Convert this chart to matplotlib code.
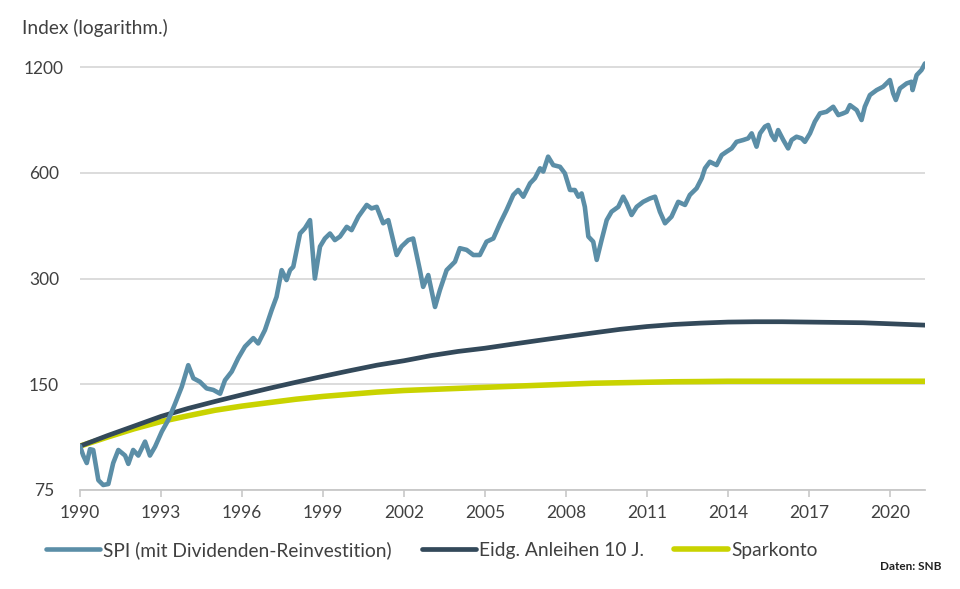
import matplotlib
matplotlib.use("Agg")
import matplotlib.pyplot as plt
from matplotlib.ticker import FixedLocator, FixedFormatter, NullLocator

plt.rcParams['font.family'] = ['Lato', 'DejaVu Sans']

# SPI (mit Dividenden-Reinvestition)
spi_years = [1990.00, 1990.12, 1990.25, 1990.37, 1990.49, 1990.68, 1990.86, 1991.05, 1991.23, 1991.42,
             1991.67, 1991.79, 1991.97, 1992.16, 1992.41, 1992.59, 1992.78, 1993.03, 1993.27, 1993.52,
             1993.77, 1994.01, 1994.20, 1994.44, 1994.69, 1994.94, 1995.19, 1995.37, 1995.62, 1995.86,
             1996.11, 1996.42, 1996.60, 1996.85, 1997.10, 1997.28, 1997.47, 1997.65, 1997.78, 1997.90,
             1998.15, 1998.33, 1998.52, 1998.70, 1998.89, 1999.07, 1999.26, 1999.44, 1999.63, 1999.88,
             2000.06, 2000.31, 2000.62, 2000.80, 2000.99, 2001.23, 2001.42, 2001.73, 2001.91, 2002.16,
             2002.34, 2002.59, 2002.71, 2002.90, 2003.15, 2003.33, 2003.58, 2003.89, 2004.07, 2004.32,
             2004.57, 2004.81, 2005.06, 2005.31, 2005.56, 2005.80, 2006.05, 2006.23, 2006.42, 2006.67,
             2006.85, 2007.04, 2007.16, 2007.34, 2007.53, 2007.78, 2007.96, 2008.15, 2008.33, 2008.46,
             2008.58, 2008.70, 2008.83, 2009.01, 2009.14, 2009.32, 2009.51, 2009.69, 2009.94, 2010.12,
             2010.25, 2010.43, 2010.62, 2010.86, 2011.11, 2011.30, 2011.48, 2011.67, 2011.91, 2012.16,
             2012.41, 2012.59, 2012.84, 2013.03, 2013.15, 2013.33, 2013.58, 2013.77, 2013.95, 2014.14,
             2014.32, 2014.57, 2014.75, 2014.88, 2015.06, 2015.19, 2015.37, 2015.49, 2015.62, 2015.74,
             2015.86, 2016.05, 2016.23, 2016.36, 2016.54, 2016.73, 2016.85, 2017.04, 2017.22, 2017.41,
             2017.65, 2017.90, 2018.09, 2018.27, 2018.40, 2018.52, 2018.77, 2018.95, 2019.07, 2019.26,
             2019.51, 2019.75, 2020.00, 2020.12, 2020.22, 2020.37, 2020.62, 2020.80, 2020.84, 2020.99,
             2021.17, 2021.30]
spi_values = [100, 94, 89.5, 98, 97.5, 80, 77.5, 78, 89.5, 97.5,
              94, 89, 97.5, 94, 103, 94, 99.6, 110, 118.7, 132,
              147.6, 170, 156, 152.5, 146, 144.5, 141, 154, 163, 178,
              192, 203, 196, 214, 244, 266, 317, 297, 317, 324,
              403, 417, 440, 300, 370, 390, 403, 386, 395, 421,
              412, 450, 486, 475, 480, 431, 440, 350, 370, 386,
              390, 317, 284, 307, 249, 278, 317, 335, 366, 362,
              350, 350, 382, 390, 431, 470, 519, 536, 513, 560,
              579, 618, 605, 667, 631, 624, 598, 536, 536, 513,
              524, 480, 395, 382, 339, 386, 440, 465, 480, 513,
              491, 455, 480, 496, 507, 513, 465, 431, 450, 496,
              486, 519, 542, 579, 618, 645, 631, 674, 689, 704,
              735, 744, 752, 777, 712, 777, 812, 821, 769, 744,
              794, 744, 704, 744, 760, 752, 735, 777, 839, 886,
              895, 925, 876, 886, 895, 935, 905, 848, 925, 999,
              1032, 1055, 1102, 1010, 967, 1043, 1078, 1090, 1032, 1138,
              1177, 1229]

# Eidg. Anleihen 10 J. and Sparkonto
years = [1990, 1991, 1992, 1993, 1994, 1995, 1996, 1997, 1998, 1999, 2000,
         2001, 2002, 2003, 2004, 2005, 2006, 2007, 2008, 2009, 2010,
         2011, 2012, 2013, 2014, 2015, 2016, 2017, 2018, 2019, 2020, 2021.3]
bond_values = [100, 107, 114, 121.5, 128, 134, 140, 146, 152, 158, 164,
               170, 175, 181, 186, 190, 195, 200, 205, 210, 215,
               219, 222, 224, 225.5, 226, 226, 225.5, 225, 224.5, 223, 221]
spar_values = [100, 106, 112, 117.5, 122, 126.5, 130, 133, 136, 138.5, 140.5,
               142.5, 144, 145, 146, 147, 148, 149, 150, 151, 151.5,
               152, 152.5, 152.7, 153, 153, 153, 153, 153, 153, 153, 153]

y_ticks = [75, 150, 300, 600, 1200]
x_ticks = [1990, 1993, 1996, 1999, 2002, 2005, 2008, 2011, 2014, 2017, 2020]

labels = ['SPI (mit Dividenden-Reinvestition)', 'Eidg. Anleihen 10 J.', 'Sparkonto']
colors = ['#5b8ea7', '#33495a', '#c9d300']
text_col = '#404040'

fig = plt.figure(figsize=(9.6, 5.89), dpi=100)
ax = fig.add_axes([80 / 960, 1 - 490 / 589, 845 / 960, 440 / 589])

ax.plot(years, spar_values, color=colors[2], lw=4.0, label=labels[2], zorder=3, solid_capstyle='round')
ax.plot(years, bond_values, color=colors[1], lw=3.4, label=labels[1], zorder=4, solid_capstyle='round')
ax.plot(spi_years, spi_values, color=colors[0], lw=3.3, label=labels[0], zorder=5,
        solid_joinstyle='round', solid_capstyle='round')

ax.set_yscale('log')
ax.set_ylim(75, 1342)
ax.set_xlim(1990, 2021.3)

ax.yaxis.set_major_locator(FixedLocator(y_ticks))
ax.yaxis.set_major_formatter(FixedFormatter([str(v) for v in y_ticks]))
ax.yaxis.set_minor_locator(NullLocator())
ax.xaxis.set_major_locator(FixedLocator(x_ticks))
ax.xaxis.set_major_formatter(FixedFormatter([str(v) for v in x_ticks]))

ax.grid(axis='y', color='#d9d9d9', lw=1.3)
ax.set_axisbelow(True)
for s in ['top', 'right', 'left']:
    ax.spines[s].set_visible(False)
ax.spines['bottom'].set_color('#c8c8c8')
ax.spines['bottom'].set_linewidth(1.3)

ax.tick_params(axis='y', length=0, pad=26, labelsize=12.5, labelcolor=text_col)
for lab in ax.get_yticklabels():
    lab.set_horizontalalignment('center')
ax.tick_params(axis='x', length=5, width=1.2, color='#c8c8c8', pad=6,
               labelsize=12.5, labelcolor=text_col)

fig.text(22 / 960, 1 - 28 / 589, 'Index (logarithm.)', fontsize=13.8, color=text_col, va='center')

handles, labs = ax.get_legend_handles_labels()
order = [2, 1, 0]
leg = fig.legend([handles[i] for i in order], [labs[i] for i in order],
                 loc='center left', bbox_to_anchor=(46 / 960, 1 - 550 / 589), ncol=3,
                 frameon=False, fontsize=13.8, handlelength=2.8, handletextpad=0.16,
                 columnspacing=1.6, borderpad=0, borderaxespad=0)
for t in leg.get_texts():
    t.set_color(text_col)

fig.text(941 / 960, 1 - 566 / 589, 'Daten: SNB', fontsize=8.5, color='#202020',
         ha='right', va='center', fontweight='bold')

fig.savefig('out.png', dpi=100, facecolor='white')
